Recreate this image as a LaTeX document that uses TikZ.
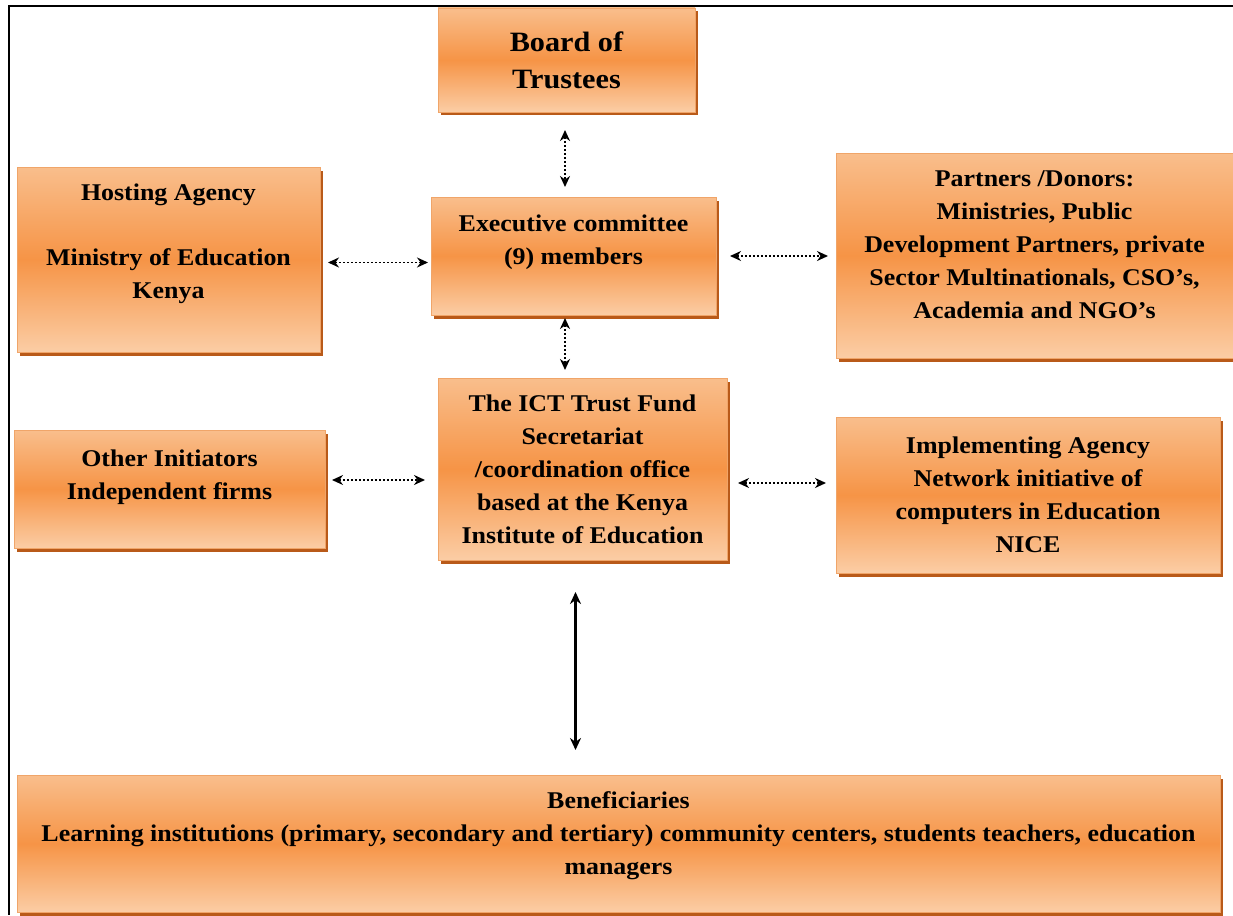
\documentclass[tikz,border=0pt]{standalone}
\usepackage{fontspec}
\setmainfont[FakeStretch=1.08]{Liberation Serif}
\usetikzlibrary{shadows,arrows.meta}
\definecolor{otop}{RGB}{249,190,140}
\definecolor{omid}{RGB}{246,148,70}
\definecolor{obot}{RGB}{251,205,165}
\definecolor{oedge}{RGB}{240,165,105}
\definecolor{oshadow}{RGB}{185,90,25}
\tikzset{
  box/.style={draw=oedge, line width=0.6pt, top color=otop, bottom color=obot, middle color=omid,
    drop shadow={shadow xshift=3pt, shadow yshift=-3.5pt, fill=oshadow, opacity=1},
    align=center, font=\bfseries\fontsize{24}{33}\selectfont, inner sep=0pt, outer sep=0pt},
  dotarrow/.style={{Stealth[length=11pt,width=10pt]}-{Stealth[length=11pt,width=10pt]}, line width=1.8pt, dash pattern=on 1.8pt off 2.2pt},
  solidarrow/.style={{Stealth[length=12pt,width=11pt]}-{Stealth[length=12pt,width=11pt]}, line width=2.6pt}
}
\begin{document}
\begin{tikzpicture}[x=1pt,y=-1pt]
\useasboundingbox (0,0) rectangle (1233,915);
\fill[white] (0,0) rectangle (1233,915);
\draw[line width=2pt] (1233,6) -- (9,6) -- (9,915);

\node[box, minimum width=257pt, minimum height=104pt, font=\bfseries\fontsize{28}{37}\selectfont] (board) at (566.5,60) {Board of\\Trustees};
\node[box, minimum width=303pt, minimum height=185pt] (hosting) at (168.5,259.5) {Hosting Agency\\[32pt]Ministry of Education\\Kenya\\[4pt]\mbox{}};
\node[box, minimum width=285pt, minimum height=118pt] (exec) at (573.5,256) {Executive committee\\(9) members\\\mbox{}};
\node[box, minimum width=397pt, minimum height=205pt] (partners) at (1034.5,255.5) {Partners /Donors:\\Ministries, Public\\Development Partners, private\\Sector Multinationals, CSO's,\\Academia and NGO's\\[-12pt]\mbox{}};
\node[box, minimum width=289pt, minimum height=182pt] (ict) at (582.5,469) {The ICT Trust Fund\\Secretariat\\/coordination office\\based at the Kenya\\Institute of Education};
\node[box, minimum width=311pt, minimum height=118pt] (other) at (169.5,489) {Other Initiators\\Independent firms\\[-4pt]\mbox{}};
\node[box, minimum width=384pt, minimum height=156pt] (impl) at (1028,495) {Implementing Agency\\Network initiative of\\computers in Education\\NICE};
\node[box, minimum width=1203pt, minimum height=137pt] (benef) at (618.5,843.5) {Beneficiaries\\Learning institutions (primary, secondary and tertiary) community centers, students teachers, education\\managers\\[-12pt]\mbox{}};

\draw[dotarrow, shorten <=18pt, shorten >=10pt] ([xshift=-1.5pt]board.south) -- ([xshift=-1.5pt]board.south |- exec.north);
\draw[dotarrow, shorten <=3pt, shorten >=8pt] ([xshift=-1.5pt]board.south |- exec.south) -- ([xshift=-1.5pt]board.south |- ict.north);
\draw[dotarrow, shorten <=8pt, shorten >=3pt] ([yshift=-3pt]hosting.east) -- ([yshift=-3pt]hosting.east -| exec.west);
\draw[dotarrow, shorten <=14pt, shorten >=8pt] (exec.east) -- (exec.east -| partners.west);
\draw[dotarrow, shorten <=7pt, shorten >=13pt] ([yshift=9pt]other.east) -- ([yshift=9pt]other.east -| ict.west);
\draw[dotarrow, shorten <=11pt, shorten >=10pt] ([yshift=-14pt]ict.east) -- ([yshift=-14pt]ict.east -| impl.west);
\draw[solidarrow, shorten <=32pt, shorten >=25pt] ([xshift=-7pt]ict.south) -- ([xshift=-7pt]ict.south |- benef.north);
\end{tikzpicture}
\end{document}
